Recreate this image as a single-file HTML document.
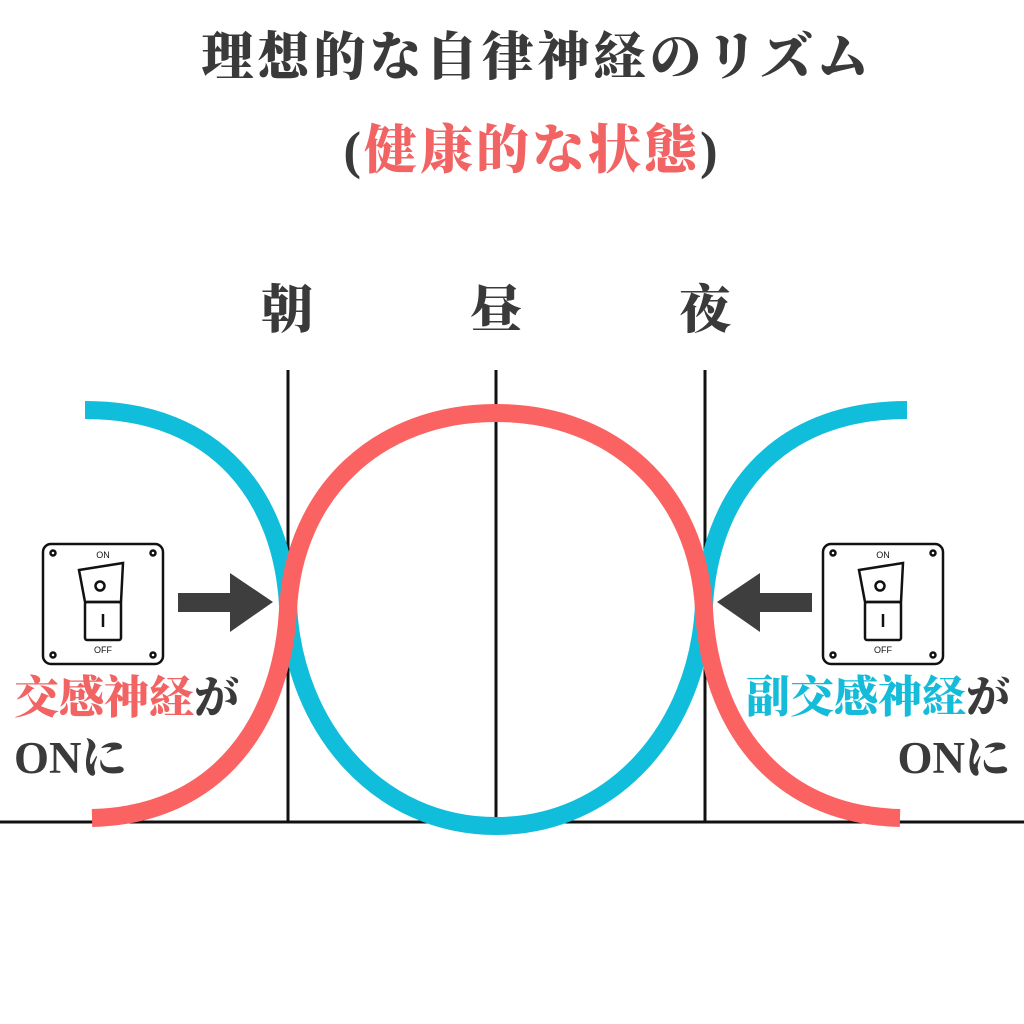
<!DOCTYPE html>
<html><head><meta charset="utf-8"><style>
body{margin:0;background:#fff;width:1024px;height:1024px;overflow:hidden;position:relative;font-family:"Liberation Serif","Noto Serif CJK SC",serif;color:#3a3a3a}
.t{position:absolute;font-weight:900;white-space:nowrap}
.red{color:#f26363}.blue{color:#15bcd9}
</style></head><body>
<div class="t" style="left:25px;width:1024px;text-align:center;top:26px;font-size:52px;letter-spacing:4px;line-height:66px">理想的な自律神経のリズム</div>
<div class="t" style="left:20px;width:1024px;text-align:center;top:118px;font-size:53px;letter-spacing:3px;line-height:66px">(<span class="red">健康的な状態</span>)</div>
<div class="t" style="left:261px;top:268px;font-size:52px">朝</div>
<div class="t" style="left:470px;top:268px;font-size:52px">昼</div>
<div class="t" style="left:679px;top:268px;font-size:52px">夜</div>
<svg style="position:absolute;left:0;top:0" width="1024" height="1024">
<g stroke="#111" stroke-width="3">
<line x1="288" y1="370" x2="288" y2="822"/><line x1="496" y1="370" x2="496" y2="822"/><line x1="705" y1="370" x2="705" y2="822"/>
<line x1="0" y1="822" x2="1024" y2="822"/></g>
<g fill="none" stroke-width="18">
<path d="M85,410 C220,410 282,500 288,605 C294,730 380,826 496,826" stroke="#10bddb"/>
<path d="M907,410 C772,410 710,500 704,605 C698,730 612,826 496,826" stroke="#10bddb"/>
<path d="M92,818 C220,815 282,720 288,610 C294,490 380,413 496,413" stroke="#fb6363"/>
<path d="M900,818 C772,815 710,720 704,610 C698,490 612,413 496,413" stroke="#fb6363"/>
</g>
<polygon points="178,593 230,593 230,573 273,602 230,632 230,612 178,612" fill="#3e3e3e"/>
<polygon points="812,593 760,593 760,573 717,602 760,632 760,612 812,612" fill="#3e3e3e"/>
<g id="sw" fill="none" stroke="#111" stroke-width="2.5">
<rect x="43" y="544" width="120" height="120" rx="8"/>
<circle cx="53" cy="553" r="2.5"/><circle cx="153" cy="553" r="2.5"/><circle cx="53" cy="655" r="2.5"/><circle cx="153" cy="655" r="2.5"/>
<path d="M79,570 L123,563 L121,602 L85,602 Z"/>
<rect x="85" y="602" width="36" height="38" rx="2"/>
<circle cx="100" cy="586" r="4.5"/><line x1="103" y1="614" x2="103" y2="627"/>
<text x="103" y="558" font-family="Liberation Sans,sans-serif" font-size="9" fill="#111" stroke="none" text-anchor="middle">ON</text>
<text x="103" y="653" font-family="Liberation Sans,sans-serif" font-size="9" fill="#111" stroke="none" text-anchor="middle">OFF</text>
</g>
<use href="#sw" x="780"/>
</svg>
<div class="t" style="left:14px;top:670px;font-size:45px;line-height:56px"><span class="red">交感神経</span>が</div>
<div class="t" style="left:14px;top:730px;font-size:45px;line-height:56px">ONに</div>
<div class="t" style="right:14px;top:670px;font-size:44px;line-height:56px"><span class="blue">副交感神経</span>が</div>
<div class="t" style="right:14px;top:730px;font-size:45px;line-height:56px">ONに</div>
</body></html>
